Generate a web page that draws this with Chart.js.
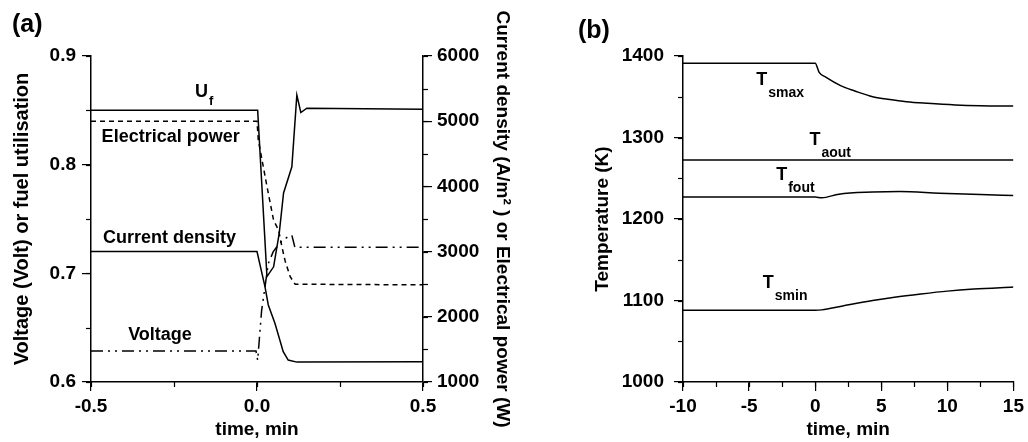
<!DOCTYPE html>
<html>
<head>
<meta charset="utf-8">
<script src="https://cdn.jsdelivr.net/npm/chart.js@4.4.1/dist/chart.umd.min.js"></script>
<style>
    body { margin: 0; background: #fff; width: 1028px; height: 442px; overflow: hidden; position: relative; }
    #wrapA { position: absolute; left: 0; top: 0; width: 530px; height: 442px; }
    #wrapB { position: absolute; left: 530px; top: 0; width: 498px; height: 442px; }
</style>
</head>
<body>
<div id="wrapA"><canvas id="chartA" width="530" height="442"></canvas></div>
<div id="wrapB"><canvas id="chartB" width="498" height="442"></canvas></div>
<script>
// ---- panel (a) data: time in min ----
var ufTime = [-0.5, 0.002, 0.03, 0.05, 0.067, 0.08, 0.105, 0.12, 0.132, 0.15, 0.5];
var ufValue = [0.85, 0.85, 0.697, 0.706, 0.737, 0.774, 0.798, 0.864, 0.848, 0.852, 0.851];

var voltTime = [-0.5, -0.003, 0.002, 0.014, 0.034, 0.049, 0.069, 0.09, 0.105, 0.114, 0.5];
var voltValue = [0.6285, 0.6285, 0.620, 0.666, 0.709, 0.720, 0.728, 0.733, 0.735, 0.724, 0.724];

var currentTime = [-0.5, 0.0, 0.024, 0.034, 0.054, 0.079, 0.094, 0.12, 0.5];
var currentValue = [3000, 3000, 2462, 2181, 1900, 1465, 1337, 1305, 1310];

var powerTime = [-0.5, 0.0, 0.004, 0.03, 0.05, 0.065, 0.075, 0.085, 0.1, 0.115, 0.5];
var powerValue = [5000, 5000, 4710, 4000, 3480, 3330, 3075, 2850, 2615, 2500, 2490];

// ---- panel (b) data: temperatures in K ----
var tsmaxTime = [-10, 0, 0.3, 0.8, 2, 3, 4.35, 5.5, 6.9, 8.5, 10.6, 12.5, 15];
var tsmaxValue = [1391, 1391, 1380, 1374, 1363, 1357, 1350, 1347, 1344, 1342, 1340, 1339, 1338.5];

var taoutTime = [-10, 15];
var taoutValue = [1272.5, 1272.5];

var tfoutTime = [-10, 0, 0.5, 1.8, 4.35, 6.4, 9.4, 12.5, 15];
var tfoutValue = [1227, 1227, 1226, 1230.5, 1233, 1233.7, 1231.7, 1230, 1228.8];

var tsminTime = [-10, 0, 0.5, 2, 4.35, 6, 8, 10, 12, 15];
var tsminValue = [1088, 1088, 1088.5, 1093, 1100, 1104, 1108, 1111.5, 1114, 1116.5];

// curve labels (data coordinates)
var labelsA = [
    { text: 'U', sub: 'f', x: -0.187, y: 0.862, axis: 'y' },
    { text: 'Electrical power', x: -0.468, y: 0.821, axis: 'y' },
    { text: 'Current density', x: -0.464, y: 0.728, axis: 'y' },
    { text: 'Voltage', x: -0.388, y: 0.639, axis: 'y' }
];
var labelsB = [
    { text: 'T', sub: 'smax', x: -4.46, y: 1364.4, axis: 'y' },
    { text: 'T', sub: 'aout', x: -0.43, y: 1290.9, axis: 'y' },
    { text: 'T', sub: 'fout', x: -2.95, y: 1248, axis: 'y' },
    { text: 'T', sub: 'smin', x: -3.96, y: 1115.2, axis: 'y' }
];

var FONT = '"Liberation Sans", Arial, sans-serif';

function pairs(xs, ys) {
    return xs.map(function (x, i) { return { x: x, y: ys[i] }; });
}

// short outward ticks between the labelled ones
function minorTickPlugin(steps) {
    return {
        id: 'minorTicks',
        afterDraw: function (chart) {
            var ctx = chart.ctx;
            ctx.save();
            ctx.strokeStyle = '#000';
            ctx.lineWidth = 1.2;
            Object.keys(steps).forEach(function (id) {
                var s = chart.scales[id];
                var step = steps[id];
                for (var v = s.min; v <= s.max + step / 1000; v += step) {
                    var p = Math.round(s.getPixelForValue(v)) + 0.5;
                    ctx.beginPath();
                    if (s.axis === 'x') {
                        ctx.moveTo(p, s.top); ctx.lineTo(p, s.top + 5);
                    } else if (s.position === 'left') {
                        ctx.moveTo(s.right, p); ctx.lineTo(s.right - 5, p);
                    } else {
                        ctx.moveTo(s.left, p); ctx.lineTo(s.left + 5, p);
                    }
                    ctx.stroke();
                }
            });
            ctx.restore();
        }
    };
}

// text labels next to the curves, plus the panel letter
function labelPlugin(items, panel, px, py, subSize, subDrop) {
    return {
        id: 'curveLabels',
        afterDatasetsDraw: function (chart) {
            var ctx = chart.ctx;
            ctx.save();
            ctx.fillStyle = '#000';
            ctx.textAlign = 'left';
            ctx.textBaseline = 'alphabetic';
            items.forEach(function (it) {
                var x = chart.scales.x.getPixelForValue(it.x);
                var y = chart.scales[it.axis].getPixelForValue(it.y);
                ctx.font = 'bold 18px ' + FONT;
                ctx.fillText(it.text, x, y);
                if (it.sub) {
                    var w = ctx.measureText(it.text).width;
                    ctx.font = 'bold ' + subSize + 'px ' + FONT;
                    ctx.fillText(it.sub, x + w + 1, y + subDrop);
                }
            });
            ctx.font = 'bold 25px ' + FONT;
            ctx.textBaseline = 'middle';
            ctx.fillText(panel, px, py);
            ctx.restore();
        }
    };
}

function axisStyle(extra) {
    var base = {
        type: 'linear',
        border: { display: true, color: '#000', width: 1.5 },
        grid: { display: true, drawOnChartArea: false, drawTicks: true, tickLength: 9, color: '#000', lineWidth: 1.2 },
        ticks: { color: '#000', font: { family: FONT, size: 19, weight: 'bold' } },
        title: { display: true, color: '#000', font: { family: FONT, size: 19, weight: 'bold' } }
    };
    return Object.assign(base, extra);
}

function plain(v) { return String(v); }

var lineDefaults = { pointRadius: 0, borderWidth: 1.5, borderColor: '#000', fill: false };

new Chart(document.getElementById('chartA'), {
    type: 'line',
    data: {
        datasets: [
            Object.assign({ label: 'Uf', data: pairs(ufTime, ufValue), yAxisID: 'y' }, lineDefaults),
            Object.assign({ label: 'Voltage', data: pairs(voltTime, voltValue), yAxisID: 'y', borderDash: [12, 5, 2, 5, 2, 5] }, lineDefaults),
            Object.assign({ label: 'Current density', data: pairs(currentTime, currentValue), yAxisID: 'y2' }, lineDefaults),
            Object.assign({ label: 'Electrical power', data: pairs(powerTime, powerValue), yAxisID: 'y2', borderDash: [5, 4] }, lineDefaults)
        ]
    },
    options: {
        responsive: false,
        animation: false,
        devicePixelRatio: 1,
        layout: { padding: { top: 56, left: 0, right: 0, bottom: 0 } },
        elements: { line: { tension: 0 } },
        plugins: { legend: { display: false }, tooltip: { enabled: false } },
        scales: {
            x: axisStyle({
                min: -0.5, max: 0.5,
                afterFit: function (s) { s.height = 60; }
            }),
            y: axisStyle({
                position: 'left', min: 0.6, max: 0.9,
                afterFit: function (s) { s.width = 91; }
            }),
            y2: axisStyle({
                position: 'right', min: 1000, max: 6000,
                afterFit: function (s) { s.width = 107; }
            })
        }
    },
    plugins: [minorTickPlugin({ x: 0.25, y: 0.05, y2: 500 }), labelPlugin(labelsA, '(a)', 12, 25, 13, 8)]
});

var cA = Chart.getChart('chartA');
cA.options.scales.x.ticks.stepSize = 0.5;
cA.options.scales.x.ticks.callback = function (v) { return v.toFixed(1); };
cA.options.scales.x.ticks.padding = 4;
cA.options.scales.x.title.text = 'time, min';
cA.options.scales.x.title.padding = { top: 0, bottom: 1 };
cA.options.scales.y.ticks.stepSize = 0.1;
cA.options.scales.y.ticks.callback = function (v) { return v.toFixed(1); };
cA.options.scales.y.ticks.padding = 6;
cA.options.scales.y.title.text = 'Voltage (Volt) or fuel utilisation';
cA.options.scales.y.title.font = { family: FONT, size: 20, weight: 'bold' };
cA.options.scales.y.title.padding = { top: 10, bottom: 0 };
cA.options.scales.y2.ticks.stepSize = 1000;
cA.options.scales.y2.ticks.callback = plain;
cA.options.scales.y2.ticks.padding = 5;
cA.options.scales.y2.title.text = 'Current density (A/m\u00B2 ) or Electrical power (W)';
cA.options.scales.y2.title.padding = { top: 16.3, bottom: 0 };
cA.update();

new Chart(document.getElementById('chartB'), {
    type: 'line',
    data: {
        datasets: [
            Object.assign({ label: 'Tsmax', data: pairs(tsmaxTime, tsmaxValue) }, lineDefaults),
            Object.assign({ label: 'Taout', data: pairs(taoutTime, taoutValue) }, lineDefaults),
            Object.assign({ label: 'Tfout', data: pairs(tfoutTime, tfoutValue) }, lineDefaults),
            Object.assign({ label: 'Tsmin', data: pairs(tsminTime, tsminValue) }, lineDefaults)
        ]
    },
    options: {
        responsive: false,
        animation: false,
        devicePixelRatio: 1,
        layout: { padding: { top: 56, left: 0, right: 14, bottom: 0 } },
        elements: { line: { cubicInterpolationMode: 'monotone' } },
        plugins: { legend: { display: false }, tooltip: { enabled: false } },
        scales: {
            x: axisStyle({
                min: -10, max: 15,
                afterFit: function (s) { s.height = 60; }
            }),
            y: axisStyle({
                position: 'left', min: 1000, max: 1400,
                afterFit: function (s) { s.width = 153; }
            })
        }
    },
    plugins: [minorTickPlugin({ x: 2.5, y: 50 }), labelPlugin(labelsB, '(b)', 48, 31, 14, 12)]
});

var cB = Chart.getChart('chartB');
cB.options.scales.x.ticks.stepSize = 5;
cB.options.scales.x.ticks.callback = plain;
cB.options.scales.x.ticks.padding = 4;
cB.options.scales.x.title.text = 'time, min';
cB.options.scales.x.title.padding = { top: 0, bottom: 1 };
cB.options.scales.y.ticks.stepSize = 100;
cB.options.scales.y.ticks.callback = plain;
cB.options.scales.y.ticks.padding = 10;
cB.options.scales.y.title.text = 'Temperature (K)';
cB.options.scales.y.title.padding = { top: 61.6, bottom: 0 };
cB.update();
</script>
</body>
</html>
